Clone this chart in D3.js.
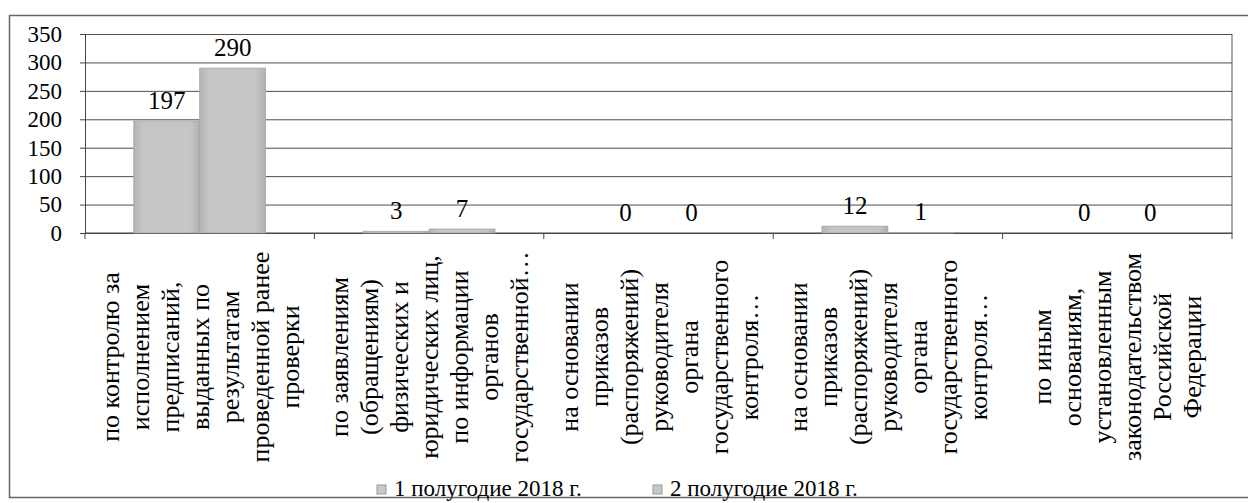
<!DOCTYPE html>
<html>
<head>
<meta charset="utf-8">
<script src="https://cdn.jsdelivr.net/npm/d3@7/dist/d3.min.js"></script>
<style>
    body { margin: 0; background: #fff; }
    svg text { font-family: "Liberation Serif", "Times New Roman", serif; fill: #000; }
</style>
</head>
<body>
<div id="chart-area"></div>
<script>
/*
*    chart: checks by ground, 1st vs 2nd half of 2018
*/

// category labels, already wrapped line by line as in the picture
var categories = [
    ["по контролю за", "исполнением", "предписаний,", "выданных по", "результатам", "проведенной ранее", "проверки"],
    ["по заявлениям", "(обращениям)", "физических и", "юридических лиц,", "по информации", "органов", "государственной…"],
    ["на основании", "приказов", "(распоряжений)", "руководителя", "органа", "государственного", "контроля…"],
    ["на основании", "приказов", "(распоряжений)", "руководителя", "органа", "государственного", "контроля…"],
    ["по иным", "основаниям,", "установленным", "законодательством", "Российской", "Федерации"]
];
var seriesNames = ["1 полугодие 2018 г.", "2 полугодие 2018 г."];
var half1 = [197, 3, 0, 12, 0];
var half2 = [290, 7, 0, 1, 0];
var yTicks = [0, 50, 100, 150, 200, 250, 300, 350];

var width = 1248;
var height = 503;
var plot = {left: 85, right: 1232, top: 34, bottom: 233};
var serif = "'Liberation Serif', 'Times New Roman', serif";

var svg = d3.select("#chart-area")
    .append("svg")
    .attr("width", width)
    .attr("height", height)
    .style("font-family", serif);

// bar shading
var grad = svg.append("defs").append("linearGradient")
    .attr("id", "barGrad")
    .attr("x1", "0").attr("x2", "1").attr("y1", "0").attr("y2", "0");
grad.append("stop").attr("offset", "0%").attr("stop-color", "#b4b4b4");
grad.append("stop").attr("offset", "15%").attr("stop-color", "#c6c6c6");
grad.append("stop").attr("offset", "85%").attr("stop-color", "#c6c6c6");
grad.append("stop").attr("offset", "100%").attr("stop-color", "#b0b0b0");

// outer frame
svg.append("rect")
    .attr("x", 9.5)
    .attr("y", 15.5)
    .attr("width", 1250)
    .attr("height", 482)
    .attr("fill", "none")
    .attr("stroke", "#666")
    .attr("stroke-width", 1.5);

var x0 = d3.scaleBand()
    .domain(d3.range(categories.length))
    .range([plot.left, plot.right])
    .paddingInner(0)
    .paddingOuter(0);

var x1 = d3.scaleBand()
    .domain([0, 1])
    .range([0, x0.bandwidth()])
    .paddingInner(0)
    .paddingOuter(0.74);

var y = d3.scaleLinear()
    .domain([0, 350])
    .range([plot.bottom, plot.top]);

// gridlines
var grid = svg.append("g")
    .attr("transform", "translate(" + plot.left + ",0)")
    .call(d3.axisLeft(y).tickValues(yTicks).tickSize(-(plot.right - plot.left)).tickFormat(""));
grid.select(".domain").remove();
grid.selectAll("line").attr("stroke", "#4d4d4d").attr("stroke-width", 1);

// right edge of plot area
svg.append("line")
    .attr("x1", plot.right).attr("x2", plot.right)
    .attr("y1", y(350)).attr("y2", y(0) + 1)
    .attr("stroke", "#555");

// y axis
var yAxisGroup = svg.append("g")
    .attr("transform", "translate(" + plot.left + ",0)")
    .call(d3.axisLeft(y).tickValues(yTicks).tickSize(5).tickPadding(18));
yAxisGroup.attr("font-family", null);
yAxisGroup.select(".domain").attr("stroke", "#444");
yAxisGroup.selectAll("line").attr("stroke", "#444");
yAxisGroup.selectAll("text")
    .style("font-family", serif)
    .style("font-size", "23px")
    .attr("fill", "#000");

// x axis with ticks at category edges
svg.append("line")
    .attr("x1", plot.left).attr("x2", plot.right)
    .attr("y1", y(0)).attr("y2", y(0))
    .attr("stroke", "#444");
svg.append("g").selectAll("line")
    .data(d3.range(categories.length + 1))
    .enter().append("line")
    .attr("x1", (d) => { return plot.left + d * x0.step(); })
    .attr("x2", (d) => { return plot.left + d * x0.step(); })
    .attr("y1", y(0))
    .attr("y2", y(0) + 6)
    .attr("stroke", "#444");

// bars
var rows = categories.map((c, i) => { return [half1[i], half2[i]]; });

var groups = svg.append("g").selectAll("g")
    .data(rows)
    .enter().append("g")
    .attr("transform", (d, i) => { return "translate(" + x0(i) + ",0)"; });

groups.selectAll("rect")
    .data((d) => { return d; })
    .enter().append("rect")
    .attr("x", (d, j) => { return x1(j); })
    .attr("y", (d) => { return y(d); })
    .attr("width", x1.bandwidth())
    .attr("height", (d) => { return y(0) - y(d); })
    .attr("fill", "url(#barGrad)")
    .attr("stroke", "#a4a4a4")
    .attr("stroke-width", 0.8);

// value labels
groups.selectAll("text")
    .data((d) => { return d; })
    .enter().append("text")
    .attr("x", (d, j) => { return x1(j) + x1.bandwidth() / 2; })
    .attr("y", (d) => { return y(d) - 12; })
    .attr("text-anchor", "middle")
    .style("font-family", serif)
    .style("font-size", "25px")
    .text((d) => { return d; });

// category labels, rotated
var lineGap = 30;
var labels = svg.append("g").selectAll("g")
    .data(categories)
    .enter().append("g");

labels.each(function(lines, i) {
    var cx = x0(i) + x0.bandwidth() / 2;
    d3.select(this).selectAll("text")
        .data(lines)
        .enter().append("text")
        .attr("transform", (d, j) => {
            var lx = cx + (j - (lines.length - 1) / 2) * lineGap;
            return "translate(" + lx + ",357) rotate(-90)";
        })
        .attr("dy", "0.35em")
        .attr("text-anchor", "middle")
        .style("font-family", serif)
        .style("font-size", "26px")
        .text((d) => { return d; });
});

// legend
var legendX = [377, 653];
var legend = svg.append("g").selectAll("g")
    .data(seriesNames)
    .enter().append("g")
    .attr("transform", (d, i) => { return "translate(" + legendX[i] + ",0)"; });

legend.append("rect")
    .attr("x", 0).attr("y", 485)
    .attr("width", 9).attr("height", 9)
    .attr("fill", "#c8c8c8")
    .attr("stroke", "#999");

legend.append("text")
    .attr("x", 17)
    .attr("y", 496)
    .style("font-family", serif)
    .style("font-size", "23px")
    .text((d) => { return d; });
</script>
</body>
</html>
